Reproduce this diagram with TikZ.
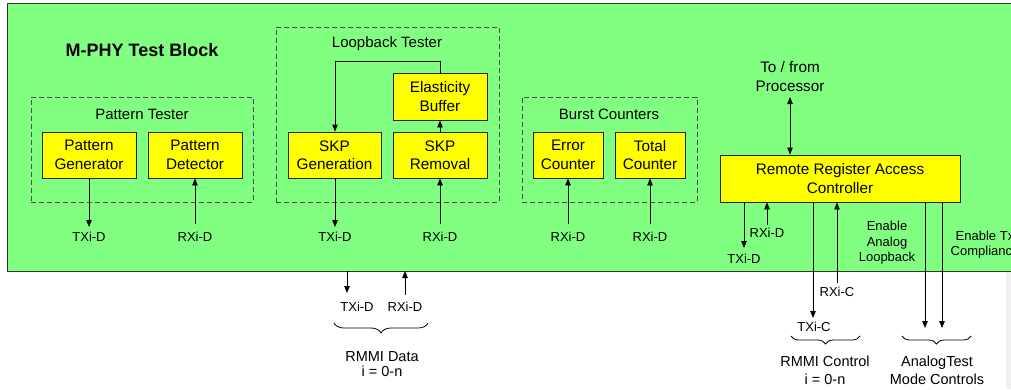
\documentclass[tikz,border=0pt]{standalone}
\usepackage{fontspec}
\setmainfont{Liberation Sans}
\usetikzlibrary{arrows.meta,decorations.pathreplacing}
\definecolor{blkgreen}{RGB}{128,255,128}
\definecolor{boxyellow}{RGB}{255,255,0}
\begin{document}
\begin{tikzpicture}[x=1pt,y=-1pt,
  unit/.style={draw=black!85,fill=boxyellow,line width=0.8pt,minimum width=94pt,minimum height=46pt,inner sep=0pt,align=center,font=\fontsize{15.3}{18.5}\selectfont},
  grp/.style={draw=black!70,dash pattern=on 5pt off 3pt,line width=0.8pt,inner sep=0pt},
  grouplabel/.style={font=\fontsize{15}{18}\selectfont,inner sep=0pt},
  sig/.style={font=\fontsize{13}{15.5}\selectfont,inner sep=0pt,align=center},
  bot/.style={font=\fontsize{14.5}{15}\selectfont,inner sep=0pt,align=center},
  arr/.style={-{Triangle[length=7pt,width=5.5pt]},line width=0.8pt},
  darr/.style={{Triangle[length=7pt,width=5.5pt]}-{Triangle[length=7pt,width=5.5pt]},line width=0.8pt},
  wire/.style={line width=0.8pt},
  brc/.style={decorate,decoration={brace,mirror,amplitude=#1},line width=0.8pt},
]
\useasboundingbox (0,0) rectangle (1011,389);
\fill[white] (0,0) rectangle (1011,389);
\fill[black!6] (1006,271) rectangle (1011,389);
% main block
\draw[fill=blkgreen,draw=black!80,line width=1pt] (7,3) rectangle (1040,271);
\node[font=\bfseries\fontsize{18}{20}\selectfont,inner sep=0pt] (title) at (142,50) {M-PHY Test Block};

% groups
\node[grp,minimum width=222pt,minimum height=105pt] (ptg) at (142,149.5) {};
\node[grouplabel] (ptl) at (142,114) {Pattern Tester};
\node[grp,minimum width=223pt,minimum height=175pt] (lbg) at (387.5,114.5) {};
\node[grouplabel] (lbl) at (387,44) {Loopback Tester};
\node[grp,minimum width=175pt,minimum height=105pt] (bcg) at (609.5,149.5) {};
\node[grouplabel] (bcl) at (609,114) {Burst Counters};

% units
\node[unit] (pg) at (89,155) {Pattern\\Generator};
\node[unit] (pd) at (195,155) {Pattern\\Detector};
\node[unit,minimum width=93pt] (sg) at (334.5,155) {SKP\\Generation};
\node[unit] (sr) at (440,155) {SKP\\Removal};
\node[unit,minimum height=47pt] (eb) at (440,96.5) {Elasticity\\Buffer};
\node[unit,minimum width=70pt] (ec) at (568,155) {Error\\Counter};
\node[unit,minimum width=70pt] (tc) at (650,155) {Total\\Counter};
\node[unit,minimum width=240pt,minimum height=47pt] (rr) at (840,178.5) {Remote Register Access\\Controller};

% pattern tester signals
\coordinate (pgo) at (89,227);
\coordinate (pdi) at (195,224);
\draw[arr] (pg.south) -- (pgo);
\draw[arr] (pdi) -- (pd.south);
\node[sig] (pgl) at (89,237) {TXi-D};
\node[sig] (pdl) at (195,237) {RXi-D};

% loopback tester
\coordinate (sgo) at (335,227);
\coordinate (sri) at (440,224);
\draw[arr] (sg.south -| sgo) -- (sgo);
\draw[arr] (sri) -- (sr.south);
\draw[arr] (sr.north) -- (eb.south);
\draw[arr] (eb.north) -- ++(0,-11) -| (sg.north -| sgo);
\node[sig] (sgl) at (335,237) {TXi-D};
\node[sig] (srl) at (440,237) {RXi-D};

% burst counters
\coordinate (eci) at (568,224);
\coordinate (tci) at (650,224);
\draw[arr] (eci) -- (ec.south);
\draw[arr] (tci) -- (tc.south);
\node[sig] (ecl) at (568,237) {RXi-D};
\node[sig] (tcl) at (650,237) {RXi-D};

% processor
\node[align=center,inner sep=0pt,font=\fontsize{15.3}{19}\selectfont] (proc) at (790,76.5) {To / from\\Processor};
\coordinate (pro) at (790,97);
\draw[darr] (pro) -- (pro |- rr.north);

% controller signals
\coordinate (ctxd) at (744,248);
\coordinate (crxd) at (767,225);
\draw[arr] (ctxd |- rr.south) -- (ctxd);
\draw[arr] (crxd) -- (crxd |- rr.south);
\node[sig] (ctxdl) at (744,259) {TXi-D};
\node[sig] (crxdl) at (767,233) {RXi-D};

\coordinate (ctxc) at (813,318);
\coordinate (crxc) at (837,283);
\draw[arr] (ctxc |- rr.south) -- (ctxc);
\draw[arr] (crxc) -- (crxc |- rr.south);
\node[sig] (ctxcl) at (814,327) {TXi-C};
\node[sig] (crxcl) at (837,292) {RXi-C};

\coordinate (ea) at (925,328);
\coordinate (et) at (942,328);
\draw[arr] (ea |- rr.south) -- (ea);
\draw[arr] (et |- rr.south) -- (et);
\node[sig] (eal) at (887,243) {Enable\\Analog\\Loopback};
\node[sig] (etl) at (985,244.5) {Enable Tx\\Compliance};

% RMMI data
\coordinate (bt) at (347,271);
\coordinate (bto) at (347,293);
\coordinate (br) at (405,271);
\coordinate (bri) at (405,295);
\draw[arr] (bt) -- (bto);
\draw[arr] (bri) -- (br);
\node[sig] (btl) at (357,307) {TXi-D};
\node[sig] (brl) at (405,307) {RXi-D};

% braces
\coordinate (b1a) at (334,323);
\coordinate (b1b) at (428,323);
\draw[brc=10pt] (b1a) -- (b1b);
\node[bot] (rd) at (382,364.5) {RMMI Data\\i = 0-n};

\coordinate (b2a) at (791,336);
\coordinate (b2b) at (860,336);
\draw[brc=8pt] (b2a) -- (b2b);
\node[bot,font=\fontsize{14.5}{18}\selectfont] (rc) at (825,370) {RMMI Control\\i = 0-n};

\coordinate (b3a) at (902,336);
\coordinate (b3b) at (971,336);
\draw[brc=8pt] (b3a) -- (b3b);
\node[bot,font=\fontsize{14.5}{18}\selectfont] (am) at (937,370) {AnalogTest\\Mode Controls};
\end{tikzpicture}
\end{document}
